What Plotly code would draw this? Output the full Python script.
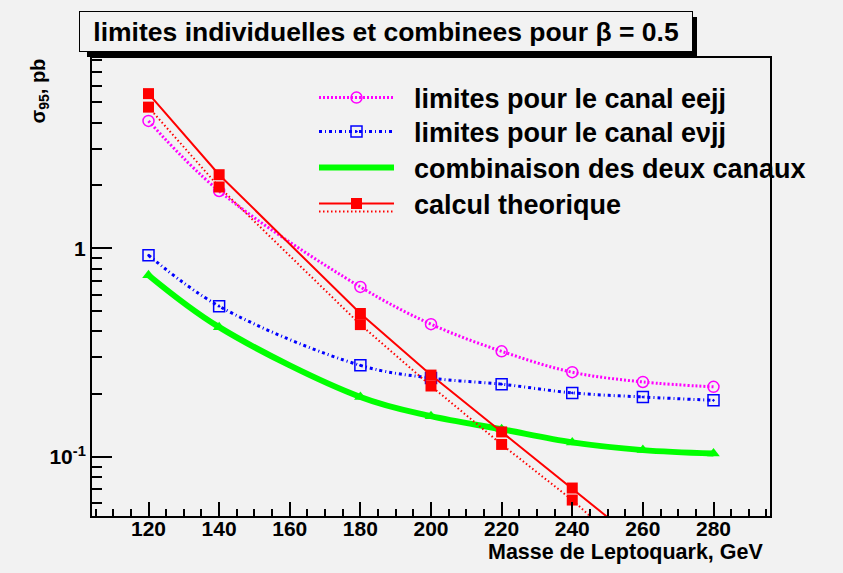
import plotly.graph_objects as go

# ---- data ----
mass = [120, 140, 180, 200, 220, 240, 260, 280]
eejj = [4.07, 1.88, 0.653, 0.433, 0.321, 0.255, 0.229, 0.217]
evjj = [0.926, 0.528, 0.275, 0.239, 0.2235, 0.203, 0.194, 0.187]
combined = [0.743, 0.419, 0.194, 0.157, 0.136, 0.1176, 0.108, 0.104]
mass_theo = [120, 140, 180, 200, 220, 240, 260]
theo_upper = [5.50, 2.25, 0.487, 0.247, 0.132, 0.0711, 0.0377]
theo_lower = [4.74, 1.965, 0.431, 0.219, 0.115, 0.0623, 0.0308]

y_tickvals = [0.1, 1]
y_ticktext = ["10<sup>-1</sup>", "1"]
y_minor = [0.06, 0.07, 0.08, 0.09, 0.2, 0.3, 0.4, 0.5, 0.6, 0.7, 0.8, 0.9,
           2, 3, 4, 5, 6, 7, 8]

names = ["limites pour le canal eejj", "limites pour le canal e\u03bdjj",
         "combinaison des deux canaux", "calcul theorique"]
title_text = "limites individuelles et combinees pour \u03b2 = 0.5"
x_title = "Masse de Leptoquark, GeV"
y_title = "\u03c3<sub>95</sub>, pb"

# ---- layout geometry (pixels) ----
W, H = 843, 573
L, R, T, B = 92, 770, 58, 516
BG = "#f2f2f2"
FONT = "Liberation Sans, Arial, Helvetica, sans-serif"
PAD = "\u00a0\u00a0"   # gap between legend symbol and text


def px(xp):
    return (xp - L) / (R - L)


def py(yp):
    return (B - yp) / (B - T)


fig = go.Figure()

fig.add_trace(go.Scatter(
    x=mass, y=eejj, name=PAD + names[0], mode="lines+markers", legend="legend",
    line=dict(color="#ff00ff", width=3, dash="2px,2px", shape="spline"),
    marker=dict(symbol="circle-open", size=11, color="#ff00ff",
                line=dict(width=1.5, color="#ff00ff")),
))
fig.add_trace(go.Scatter(
    x=mass, y=evjj, name=PAD + names[1], mode="lines+markers", legend="legend2",
    line=dict(color="#0000ff", width=3, dash="3px,3px,1px,3px", shape="spline"),
    marker=dict(symbol="square-open-dot", size=11, color="#0000ff",
                line=dict(width=1.5, color="#0000ff")),
))
fig.add_trace(go.Scatter(
    x=mass, y=combined, name=PAD + names[2], mode="lines", legend="legend3",
    line=dict(color="#00ff00", width=6, shape="spline"),
))
fig.add_trace(go.Scatter(
    x=mass, y=combined, name=names[2], mode="markers", showlegend=False,
    marker=dict(symbol="triangle-up", size=11, color="#00ff00"),
))
fig.add_trace(go.Scatter(
    x=mass_theo, y=theo_lower, name="\u00a0", mode="lines", legend="legend5",
    line=dict(color="#ff0000", width=2, dash="1.5px,2.5px"),
))
fig.add_trace(go.Scatter(
    x=mass_theo, y=theo_lower, name=names[3], mode="markers", showlegend=False,
    marker=dict(symbol="square", size=11, color="#ff0000"),
))
fig.add_trace(go.Scatter(
    x=mass_theo, y=theo_upper, name=PAD + names[3], mode="lines+markers",
    legend="legend4",
    line=dict(color="#ff0000", width=2),
    marker=dict(symbol="square", size=11, color="#ff0000"),
))

# title box shadow + box
fig.add_shape(type="rect", xref="paper", yref="paper",
              x0=px(87), x1=px(697), y0=py(57), y1=py(17),
              fillcolor="black", line=dict(width=0), layer="above")
fig.add_annotation(
    xref="paper", yref="paper", x=px(79), y=py(11), xanchor="left", yanchor="top",
    text=title_text, showarrow=False, width=606, height=33, align="center",
    bgcolor=BG, bordercolor="black", borderwidth=1, borderpad=3,
    font=dict(family=FONT, size=26.5, color="black", weight="bold"),
)
# axis titles
fig.add_annotation(
    xref="paper", yref="paper", x=px(765), y=py(552), xanchor="right", yanchor="middle",
    text=x_title, showarrow=False,
    font=dict(family=FONT, size=21.5, color="black", weight="bold"),
)
fig.add_annotation(
    xref="paper", yref="paper", x=px(39), y=py(56), xanchor="center", yanchor="top",
    text=y_title, showarrow=False, textangle=-90,
    font=dict(family=FONT, size=20, color="black", weight="bold"),
)

legend_font = dict(family=FONT, size=27, color="black", weight="bold")


def legend_at(row_y):
    return dict(
        x=px(314), y=py(row_y), xanchor="left", yanchor="middle",
        bgcolor="rgba(0,0,0,0)", borderwidth=0, itemwidth=75,
        font=legend_font,
    )


fig.update_layout(
    width=W, height=H,
    margin=dict(l=L, r=W - R, t=T, b=H - B, pad=0),
    paper_bgcolor=BG, plot_bgcolor=BG,
    font=dict(family=FONT, color="black", weight="bold"),
    showlegend=True,
    legend=legend_at(98),
    legend2=legend_at(132),
    legend3=legend_at(168),
    legend4=legend_at(204),
    legend5=legend_at(212),
    xaxis=dict(
        range=[104, 296], showgrid=False, zeroline=False,
        showline=True, linecolor="black", linewidth=2, mirror=True,
        ticks="inside", ticklen=14, tickwidth=1.5, tickcolor="black",
        tick0=120, dtick=20, ticklabelstandoff=-7,
        minor=dict(ticks="inside", ticklen=7, tickwidth=1.5, tickcolor="black",
                   tick0=0, dtick=5, showgrid=False),
        tickfont=dict(family=FONT, size=21, color="black", weight="bold"),
    ),
    yaxis=dict(
        type="log", range=[-1.282, 0.911], showgrid=False, zeroline=False,
        showline=True, linecolor="black", linewidth=2, mirror=True,
        ticks="inside", ticklen=20, tickwidth=1.5, tickcolor="black",
        tickmode="array", tickvals=y_tickvals, ticktext=y_ticktext,
        minor=dict(ticks="inside", ticklen=10, tickwidth=1.5, tickcolor="black",
                   tickmode="array", tickvals=y_minor, showgrid=False),
        tickfont=dict(family=FONT, size=21, color="black", weight="bold"),
    ),
)

fig.write_html("out.html", config={"displayModeBar": False},
               post_script="document.body.style.margin='0';")
